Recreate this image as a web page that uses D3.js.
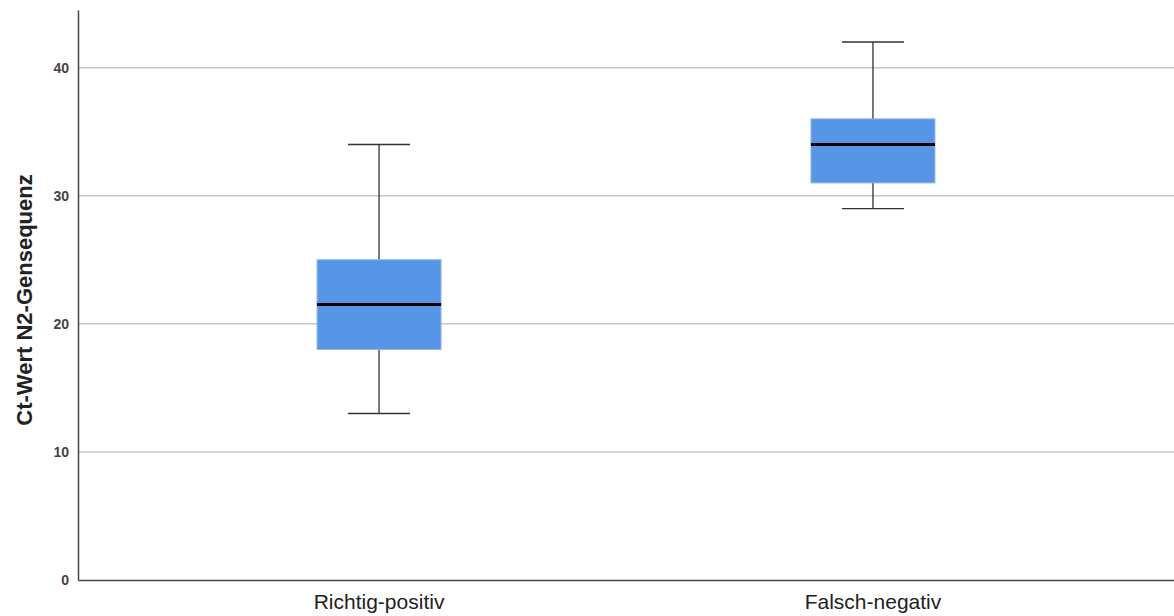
<!DOCTYPE html>
<html>
<head>
<meta charset="utf-8">
<script src="https://cdn.jsdelivr.net/npm/d3@7"></script>
<style>
  body { margin: 0; background: #fff; }
  svg { display: block; font-family: "Liberation Sans", Arial, sans-serif; }
</style>
</head>
<body>
<svg width="1174" height="616"></svg>
<script>
var width = 1174;
var height = 616;
var margin = {left: 78, right: 0, top: 10, bottom: 36};

// data
var groups = ["Richtig-positiv", "Falsch-negativ"];
var mins = [13, 29];
var q1s = [18, 31];
var medians = [21.5, 34];
var q3s = [25, 36];
var maxs = [34, 42];
var yTicks = [0, 10, 20, 30, 40];

var boxes = groups.map(function(g, i) {
  return {name: g, min: mins[i], q1: q1s[i], median: medians[i], q3: q3s[i], max: maxs[i]};
});

var svg = d3.select('svg');

var xScale = d3.scaleBand()
  .domain(groups)
  .range([margin.left, width - margin.right])
  .paddingInner(0.749)
  .paddingOuter(0.484);

var yScale = d3.scaleLinear()
  .domain([0, 44.5])
  .range([height - margin.bottom, margin.top]);

// grid lines
svg.append('g')
  .selectAll('line')
  .data(yTicks.filter(function(d) { return d > 0; }))
  .enter()
  .append('line')
  .attr('x1', margin.left)
  .attr('x2', width)
  .attr('y1', function(d) { return yScale(d); })
  .attr('y2', function(d) { return yScale(d); })
  .attr('stroke', '#c8c8c8')
  .attr('stroke-width', 1.5);

// y axis
var axisLeft = d3.axisLeft(yScale).tickValues(yTicks).tickSize(0).tickPadding(9);
var gy = svg.append('g')
  .attr('transform', 'translate(' + margin.left + ',0)')
  .call(axisLeft);
gy.select('.domain').attr('stroke', '#444').attr('stroke-width', 1.5);
gy.selectAll('text')
  .attr('font-family', '"Liberation Sans", Arial, sans-serif')
  .attr('font-size', 14)
  .attr('font-weight', 'bold')
  .attr('fill', '#444');

// x axis
var axisBottom = d3.axisBottom(xScale).tickSize(0).tickPadding(14);
var gx = svg.append('g')
  .attr('transform', 'translate(0,' + (height - margin.bottom) + ')')
  .call(axisBottom);
gx.select('.domain').attr('stroke', '#444').attr('stroke-width', 1.5);
gx.selectAll('text')
  .attr('font-family', '"Liberation Sans", Arial, sans-serif')
  .attr('font-size', 21)
  .attr('fill', '#222');

// y axis title
svg.append('text')
  .attr('transform', 'rotate(-90)')
  .attr('x', -300)
  .attr('y', 32)
  .style('text-anchor', 'middle')
  .attr('font-size', 22)
  .attr('font-weight', 'bold')
  .attr('fill', '#222')
  .text('Ct-Wert N2-Gensequenz');

// boxes
var bw = xScale.bandwidth();
var g = svg.append('g')
  .selectAll('g')
  .data(boxes)
  .enter()
  .append('g')
  .attr('transform', function(d) { return 'translate(' + xScale(d.name) + ',0)'; });

// whiskers
g.append('line')
  .attr('x1', bw / 2).attr('x2', bw / 2)
  .attr('y1', function(d) { return yScale(d.max); })
  .attr('y2', function(d) { return yScale(d.min); })
  .attr('stroke', '#333')
  .attr('stroke-width', 1.3);

g.append('line')
  .attr('x1', bw / 4).attr('x2', bw * 3 / 4)
  .attr('y1', function(d) { return yScale(d.max); })
  .attr('y2', function(d) { return yScale(d.max); })
  .attr('stroke', '#333')
  .attr('stroke-width', 1.3);

g.append('line')
  .attr('x1', bw / 4).attr('x2', bw * 3 / 4)
  .attr('y1', function(d) { return yScale(d.min); })
  .attr('y2', function(d) { return yScale(d.min); })
  .attr('stroke', '#333')
  .attr('stroke-width', 1.3);

g.append('rect')
  .attr('x', 0)
  .attr('width', bw)
  .attr('y', function(d) { return yScale(d.q3); })
  .attr('height', function(d) { return yScale(d.q1) - yScale(d.q3); })
  .attr('fill', '#5795e6')
  .attr('stroke', '#8db6ee')
  .attr('stroke-width', 1);

g.append('line')
  .attr('x1', 0).attr('x2', bw)
  .attr('y1', function(d) { return yScale(d.median); })
  .attr('y2', function(d) { return yScale(d.median); })
  .attr('stroke', '#000')
  .attr('stroke-width', 3);
</script>
</body>
</html>
